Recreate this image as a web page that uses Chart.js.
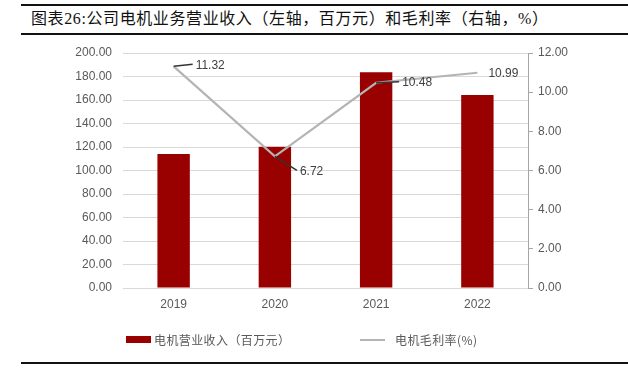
<!DOCTYPE html>
<html>
<head>
<meta charset="utf-8">
<script src="https://cdn.jsdelivr.net/npm/chart.js@4/dist/chart.umd.min.js"></script>
<style>
  html, body { margin: 0; padding: 0; background: #fff; }
  #wrap { position: relative; width: 628px; height: 380px; overflow: hidden; }
  #chart { position: absolute; left: 0; top: 0; }
  .rule { position: absolute; left: 21px; right: 0; height: 2px; background: #111; }
  #title {
    position: absolute; left: 31px; top: 9px; line-height: 20px;
    font-family: "Liberation Serif", "Noto Sans CJK SC", serif;
    font-size: 16px; letter-spacing: 0.6px; color: #111; white-space: nowrap;
  }
  .lg-text {
    position: absolute; top: 332px; line-height: 16px;
    font-family: "Noto Sans CJK SC", sans-serif; font-size: 12px;
    letter-spacing: 0.4px; color: #595959; white-space: nowrap;
  }
</style>
</head>
<body>
<div id="wrap">
  <div class="rule" style="top:4px"></div>
  <div id="title">图表26:公司电机业务营业收入（左轴，百万元）和毛利率（右轴，%）</div>
  <div class="rule" style="top:33px"></div>
  <canvas id="chart" width="628" height="380"></canvas>
  <div style="position:absolute;left:126px;top:336px;width:25px;height:7px;background:#990000"></div>
  <div class="lg-text" style="left:154px">电机营业收入（百万元）</div>
  <div style="position:absolute;left:360px;top:339px;width:25px;height:2px;background:#b4b4b4"></div>
  <div class="lg-text" style="left:395px">电机毛利率(%)</div>
  <div class="rule" style="top:362px"></div>
</div>
<script>
const years = ["2019", "2020", "2021", "2022"];
const revenue = [114.0, 120.3, 183.6, 164.3];
const margin = [11.32, 6.72, 10.48, 10.99];

const GREY_TEXT = "#595959";
const TICK_FONT = { family: '"Liberation Sans", Arial, sans-serif', size: 12 };

// where each margin label sits relative to its point, and whether a leader line is drawn
const marginLabelPos = [
  { dx: 19, dy: -2, leader: true },
  { dx: 22, dy: 14, leader: true },
  { dx: 23, dy: -1, leader: true },
  { dx: 8, dy: 0, leader: false }
];

const marginLabels = {
  id: "marginLabels",
  afterDatasetsDraw(chart) {
    const ctx = chart.ctx;
    const meta = chart.getDatasetMeta(1);
    ctx.save();
    ctx.font = '12px "Liberation Sans", Arial, sans-serif';
    ctx.fillStyle = "#404040";
    ctx.strokeStyle = "#333";
    ctx.lineWidth = 1.5;
    ctx.textAlign = "left";
    ctx.textBaseline = "middle";
    meta.data.forEach((pt, i) => {
      const pos = marginLabelPos[i];
      const ex = pt.x + pos.dx;
      const ey = pt.y + pos.dy;
      if (pos.leader) {
        ctx.beginPath();
        ctx.moveTo(pt.x, pt.y);
        ctx.lineTo(ex, ey);
        ctx.stroke();
      }
      ctx.fillText(margin[i].toFixed(2), ex + 3, ey + 1);
    });
    ctx.restore();
  }
};

new Chart(document.getElementById("chart"), {
  type: "bar",
  data: {
    labels: years,
    datasets: [
      {
        label: "电机营业收入（百万元）",
        data: revenue,
        backgroundColor: "#990000",
        barPercentage: 0.32,
        categoryPercentage: 1,
        yAxisID: "y",
        order: 2
      },
      {
        type: "line",
        label: "电机毛利率(%)",
        data: margin,
        borderColor: "#b4b4b4",
        borderWidth: 2.2,
        pointRadius: 0,
        tension: 0,
        yAxisID: "y1",
        order: 1
      }
    ]
  },
  options: {
    responsive: false,
    animation: false,
    layout: { padding: { top: 53, left: 0, right: 0, bottom: 62 } },
    plugins: {
      legend: { display: false },
      tooltip: { enabled: false }
    },
    scales: {
      x: {
        grid: { display: false, drawTicks: false },
        border: { display: false },
        ticks: { color: GREY_TEXT, font: TICK_FONT, padding: 9 },
        afterFit(scale) { scale.height = 30; }
      },
      y: {
        position: "left",
        min: 0,
        max: 200,
        ticks: {
          stepSize: 20,
          color: GREY_TEXT,
          font: TICK_FONT,
          padding: 11,
          callback: (v) => v.toFixed(2)
        },
        grid: { color: "#d9d9d9", lineWidth: 1, drawTicks: false },
        border: { display: false },
        afterFit(scale) { scale.width = 123; }
      },
      y1: {
        position: "right",
        min: 0,
        max: 12,
        ticks: {
          stepSize: 2,
          color: GREY_TEXT,
          font: TICK_FONT,
          padding: 5,
          callback: (v) => v.toFixed(2)
        },
        grid: { drawOnChartArea: false, drawTicks: true, tickLength: 5, color: "#a6a6a6" },
        border: { display: true, color: "#a6a6a6" },
        afterFit(scale) { scale.width = 100; }
      }
    }
  },
  plugins: [marginLabels]
});
</script>
</body>
</html>
